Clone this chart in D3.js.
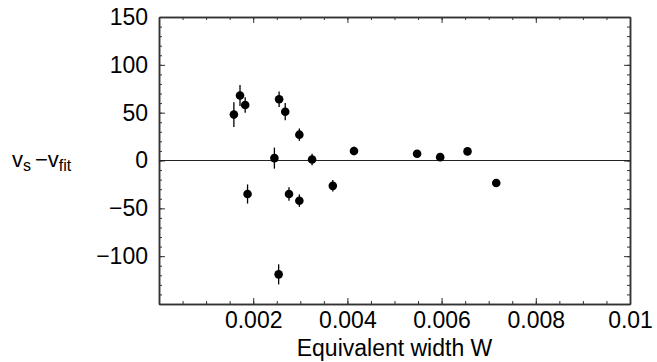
<!DOCTYPE html>
<html>
<head>
<meta charset="utf-8">
<script src="https://cdn.jsdelivr.net/npm/d3@7"></script>
<style>
  body { margin: 0; background: #fff; }
  svg { font-family: "Liberation Sans", Arial, sans-serif; }
  .axis path, .axis line { stroke: #333; }
  .axis text { font-size: 23px; fill: #000; }
</style>
</head>
<body>
<div id="chart"></div>
<script>

      // equivalent width W, residual v_s - v_fit, error
      var widths = [0.00159, 0.00172, 0.00183, 0.00255, 0.00268, 0.00298, 0.00245, 0.00325, 0.00414,
                    0.00548, 0.00597, 0.00655, 0.00716, 0.00188, 0.00276, 0.00298, 0.00369, 0.00254];
      var residuals = [48, 68, 58, 64, 51, 27, 2.5, 1, 10,
                       7, 3.5, 9.5, -23.5, -35, -35, -42, -26.5, -119];
      var errors = [13, 11, 8, 8, 9, 6.5, 11, 6, 4.5,
                    3, 2, 2.5, 3, 10, 7, 6.5, 6, 10.5];

      var xMajor = [0.002, 0.004, 0.006, 0.008, 0.01];
      var yMajor = [-100, -50, 0, 50, 100, 150];

      var margin = {top: 17, right: 27, bottom: 58, left: 159};

      var width = 657 - margin.left - margin.right,
          height = 362 - margin.top - margin.bottom;

      var svg = d3.select("#chart").append("svg")
                .attr("width", 657)
                .attr("height", 362);

      var canvas = svg.append("g")
                .attr("transform", "translate(" + margin.left + "," + margin.top + ")");

      ////// Define Scales /////////////////
      var xScale = d3.scaleLinear()
          .domain([0, 0.01])
          .range([0, width]);
      var yScale = d3.scaleLinear()
          .domain([-150, 150])
          .range([height, 0]);

      var xMinor = d3.range(0, 0.01001, 0.0005);
      var yMinor = d3.range(-150, 151, 10);

      /////// Axes: ticks point inward //////////
      function addAxis(axis, tx, ty) {
          canvas.append("g")
              .attr("class", "axis")
              .attr("transform", "translate(" + tx + "," + ty + ")")
              .call(axis);
      }

      // minor ticks
      addAxis(d3.axisBottom(xScale).tickValues(xMinor).tickSize(-3).tickSizeOuter(0).tickFormat(""), 0, height);
      addAxis(d3.axisTop(xScale).tickValues(xMinor).tickSize(-3).tickSizeOuter(0).tickFormat(""), 0, 0);
      addAxis(d3.axisLeft(yScale).tickValues(yMinor).tickSize(-3).tickSizeOuter(0).tickFormat(""), 0, 0);
      addAxis(d3.axisRight(yScale).tickValues(yMinor).tickSize(-3).tickSizeOuter(0).tickFormat(""), width, 0);

      // major ticks with labels
      addAxis(d3.axisBottom(xScale).tickValues(xMajor).tickSize(-6).tickSizeOuter(0).tickPadding(8)
          .tickFormat(function(d) { return d === 0.01 ? "0.01" : d3.format(".3f")(d); }), 0, height);
      addAxis(d3.axisTop(xScale).tickValues(xMajor).tickSize(-6).tickSizeOuter(0).tickFormat(""), 0, 0);
      addAxis(d3.axisLeft(yScale).tickValues(yMajor).tickSize(-6).tickSizeOuter(0).tickPadding(11), 0, 0);
      addAxis(d3.axisRight(yScale).tickValues(yMajor).tickSize(-6).tickSizeOuter(0).tickFormat(""), width, 0);

      canvas.selectAll(".axis path").attr("stroke-width", 1.5);

      // zero line
      canvas.append("line")
          .attr("x1", 0)
          .attr("x2", width)
          .attr("y1", yScale(0))
          .attr("y2", yScale(0))
          .attr("stroke", "#222")
          .attr("stroke-width", 1.2);

      var data = widths.map(function(w, i) {
          return {x: w, y: residuals[i], e: errors[i]};
      });

      // error bars
      canvas.append("g")
          .selectAll(".err")
          .data(data)
          .enter()
          .append("line")
          .attr("class", "err")
          .attr("x1", function(d) { return xScale(d.x); })
          .attr("x2", function(d) { return xScale(d.x); })
          .attr("y1", function(d) { return yScale(d.y - d.e); })
          .attr("y2", function(d) { return yScale(d.y + d.e); })
          .attr("stroke", "#000")
          .attr("stroke-width", 1.3);

      // points
      canvas.append("g")
          .selectAll(".pt")
          .data(data)
          .enter()
          .append("circle")
          .attr("class", "pt")
          .attr("cx", function(d) { return xScale(d.x); })
          .attr("cy", function(d) { return yScale(d.y); })
          .attr("r", 4.3)
          .attr("fill", "#000");

      // axis labels
      svg.append("text")
          .attr("x", margin.left + width / 2)
          .attr("y", 356)
          .attr("text-anchor", "middle")
          .attr("font-size", 23)
          .text("Equivalent width W");

      var yl = svg.append("text")
          .attr("x", 12)
          .attr("y", 167)
          .attr("font-size", 22);
      yl.append("tspan").text("v");
      yl.append("tspan").attr("font-size", 16).attr("dy", 4).text("s");
      yl.append("tspan").attr("dy", -4).attr("dx", 4).text("\u2212v");
      yl.append("tspan").attr("font-size", 16).attr("dy", 4).text("fit");

</script>
</body>
</html>
